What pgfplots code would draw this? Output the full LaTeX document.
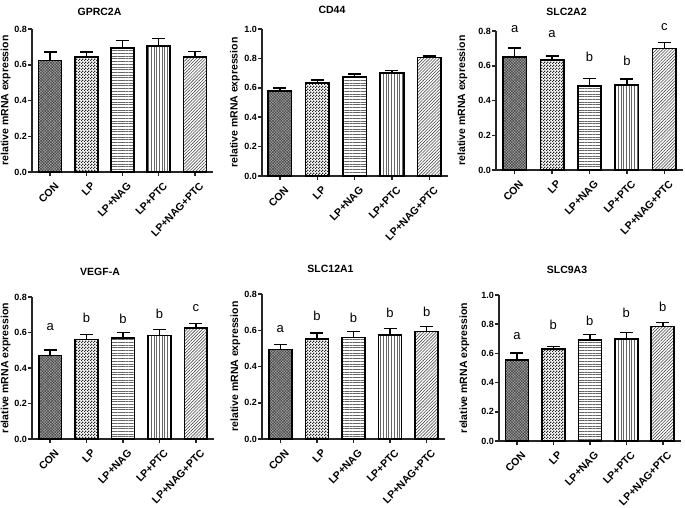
\documentclass[border=0pt]{standalone}
\usepackage{pgfplots}
\pgfplotsset{compat=1.18}
\usepackage{fontspec}
\setmainfont{Liberation Sans}
\usetikzlibrary{patterns,patterns.meta}

\pgfdeclarepatternformonly{finecheck}{\pgfpointorigin}{\pgfqpoint{3pt}{3pt}}{\pgfqpoint{3pt}{3pt}}{%
  \pgfpathrectangle{\pgfpointorigin}{\pgfqpoint{1.55pt}{1.55pt}}%
  \pgfpathrectangle{\pgfqpoint{1.5pt}{1.5pt}}{\pgfqpoint{1.55pt}{1.55pt}}%
  \pgfusepath{fill}}

\pgfplotsset{
  panel/.style={
    scale only axis,
    axis x line*=bottom, axis y line*=left,
    xmin=-0.5, xmax=4.5, ymin=0,
    xtick={0,1,2,3,4},
    xticklabels={CON,LP,LP+NAG,LP+PTC,LP+NAG+PTC},
    axis line style={line width=1.5pt, black!85},
    tick style={line width=1.5pt, black!85},
    major tick length=4pt,
    tick align=outside,
    /pgf/number format/assume math mode=true,
    yticklabel style={font=\bfseries\fontsize{9}{9}\selectfont, inner sep=1pt,
      /pgf/number format/.cd, fixed, fixed zerofill, precision=1},
    xticklabel style={font=\bfseries\fontsize{10.5}{10.5}\selectfont, xshift=4pt, yshift=-4pt, rotate=46, anchor=north east, inner sep=1pt},
    ylabel={relative mRNA expression},
    ylabel style={font=\bfseries\fontsize{10.5}{10.5}\selectfont, at={(axis description cs:-0.145,0.5)}, anchor=center, rotate=0},
    title style={font=\bfseries\fontsize{10.5}{10.5}\selectfont, at={(axis description cs:0.5,1)}, anchor=center, xshift=-23pt, yshift=13pt},
    ybar, bar width=0.63, bar shift=0pt,
    every axis plot/.append style={draw=black, line width=1.6pt},
    error bars/y dir=plus, error bars/y explicit,
    error bars/error bar style={line width=1.5pt, black},
    error bars/error mark options={line width=1.5pt, mark size=6.5pt, black, rotate=90},
    clip=false,
  },
  bCON/.style={fill=black!35, postaction={pattern={Hatch[angle=45,distance=2pt,line width=0.45pt]}, pattern color=black!75}},
  bLP/.style={fill=white, postaction={pattern=finecheck, pattern color=black!85}},
  bNAG/.style={fill=white, postaction={pattern={Lines[angle=0,distance=2.7pt,line width=0.7pt]}, pattern color=black!60}},
  bPTC/.style={fill=white, postaction={pattern={Lines[angle=90,distance=2.7pt,line width=0.7pt]}, pattern color=black!60}},
  bALL/.style={fill=white, postaction={pattern={Lines[angle=45,distance=2.2pt,line width=0.6pt]}, pattern color=black!70}},
}
\newcommand{\letterfont}{\fontsize{13}{13}\selectfont}

\begin{document}
\begin{tikzpicture}
\path[use as bounding box] (0,0) rectangle (685pt,507pt);

% GPRC2A
\begin{axis}[panel, at={(32pt,335pt)}, anchor=south west, width=181pt, height=143pt,
  ymax=0.8, ytick={0,0.2,0.4,0.6,0.8}, title={GPRC2A}, title style={yshift=-2pt}]
\addplot[bCON] coordinates {(0,0.624) +- (0,0.047)};
\addplot[bLP] coordinates {(1,0.643) +- (0,0.028)};
\addplot[bNAG] coordinates {(2,0.693) +- (0,0.042)};
\addplot[bPTC] coordinates {(3,0.705) +- (0,0.043)};
\addplot[bALL] coordinates {(4,0.645) +- (0,0.028)};
\end{axis}

% CD44
\begin{axis}[panel, at={(262pt,331pt)}, anchor=south west, width=186pt, height=147pt,
  ymax=1.0, ytick={0,0.2,0.4,0.6,0.8,1.0}, title={CD44}, xmin=-0.48]
\addplot[bCON] coordinates {(0,0.578) +- (0,0.020)};
\addplot[bLP] coordinates {(1,0.633) +- (0,0.019)};
\addplot[bNAG] coordinates {(2,0.674) +- (0,0.020)};
\addplot[bPTC] coordinates {(3,0.699) +- (0,0.017)};
\addplot[bALL] coordinates {(4,0.805) +- (0,0.010)};
\end{axis}

% SLC2A2
\begin{axis}[panel, at={(496pt,337pt)}, anchor=south west, width=187pt, height=139pt,
  ymax=0.8, ytick={0,0.2,0.4,0.6,0.8}, title={SLC2A2},
  ylabel style={at={(axis description cs:-0.18,0.5)}}]
\addplot[bCON] coordinates {(0,0.651) +- (0,0.051)};
\addplot[bLP] coordinates {(1,0.633) +- (0,0.022)};
\addplot[bNAG] coordinates {(2,0.482) +- (0,0.046)};
\addplot[bPTC] coordinates {(3,0.490) +- (0,0.034)};
\addplot[bALL] coordinates {(4,0.699) +- (0,0.036)};
\node[font=\letterfont] at (0,0.81) {a};
\node[font=\letterfont] at (1,0.78) {a};
\node[font=\letterfont] at (2,0.65) {b};
\node[font=\letterfont] at (3,0.626) {b};
\node[font=\letterfont] at (4,0.825) {c};
\end{axis}

% VEGF-A
\begin{axis}[panel, at={(32pt,68pt)}, anchor=south west, width=182pt, height=142pt,
  ymax=0.8, ytick={0,0.2,0.4,0.6,0.8}, title={VEGF-A}, title style={yshift=6pt}]
\addplot[bCON] coordinates {(0,0.471) +- (0,0.030)};
\addplot[bLP] coordinates {(1,0.561) +- (0,0.028)};
\addplot[bNAG] coordinates {(2,0.568) +- (0,0.032)};
\addplot[bPTC] coordinates {(3,0.583) +- (0,0.034)};
\addplot[bALL] coordinates {(4,0.624) +- (0,0.028)};
\node[font=\letterfont] at (0,0.628) {a};
\node[font=\letterfont] at (1,0.682) {b};
\node[font=\letterfont] at (2,0.675) {b};
\node[font=\letterfont] at (3,0.703) {b};
\node[font=\letterfont] at (4,0.735) {c};
\end{axis}

% SLC12A1
\begin{axis}[panel, at={(262pt,68pt)}, anchor=south west, width=183pt, height=145pt,
  ymax=0.8, ytick={0,0.2,0.4,0.6,0.8}, title={SLC12A1}, title style={yshift=6pt}]
\addplot[bCON] coordinates {(0,0.494) +- (0,0.028)};
\addplot[bLP] coordinates {(1,0.553) +- (0,0.031)};
\addplot[bNAG] coordinates {(2,0.560) +- (0,0.032)};
\addplot[bPTC] coordinates {(3,0.575) +- (0,0.035)};
\addplot[bALL] coordinates {(4,0.594) +- (0,0.027)};
\node[font=\letterfont] at (0,0.608) {a};
\node[font=\letterfont] at (1,0.677) {b};
\node[font=\letterfont] at (2,0.671) {b};
\node[font=\letterfont] at (3,0.695) {b};
\node[font=\letterfont] at (4,0.702) {b};
\end{axis}

% SLC9A3
\begin{axis}[panel, at={(499pt,66pt)}, anchor=south west, width=182pt, height=146pt,
  ymax=1.0, ytick={0,0.2,0.4,0.6,0.8,1.0}, title={SLC9A3}, xmin=-0.49, title style={yshift=6pt},
  ylabel style={at={(axis description cs:-0.19,0.5)}}]
\addplot[bCON] coordinates {(0,0.554) +- (0,0.048)};
\addplot[bLP] coordinates {(1,0.632) +- (0,0.016)};
\addplot[bNAG] coordinates {(2,0.691) +- (0,0.039)};
\addplot[bPTC] coordinates {(3,0.700) +- (0,0.044)};
\addplot[bALL] coordinates {(4,0.783) +- (0,0.029)};
\node[font=\letterfont] at (0,0.719) {a};
\node[font=\letterfont] at (1,0.794) {b};
\node[font=\letterfont] at (2,0.824) {b};
\node[font=\letterfont] at (3,0.879) {b};
\node[font=\letterfont] at (4,0.920) {b};
\end{axis}
\end{tikzpicture}
\end{document}
